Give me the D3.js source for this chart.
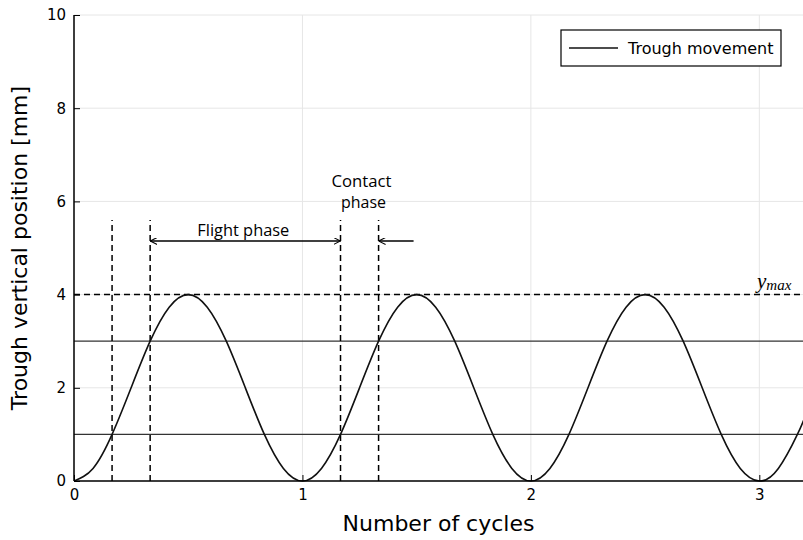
<!DOCTYPE html>
<html>
<head>
<meta charset="utf-8">
<script src="https://cdn.jsdelivr.net/npm/d3@7"></script>
<style>
  body { margin: 0; background: #fff; }
  svg { display: block; }
</style>
</head>
<body>
<div id="chart"></div>
<script>
// trough position, every 1/12 of a cycle
const cycles = [
  0, 0.0833, 0.1667, 0.25, 0.3333, 0.4167, 0.5, 0.5833, 0.6667, 0.75, 0.8333, 0.9167,
  1, 1.0833, 1.1667, 1.25, 1.3333, 1.4167, 1.5, 1.5833, 1.6667, 1.75, 1.8333, 1.9167,
  2, 2.0833, 2.1667, 2.25, 2.3333, 2.4167, 2.5, 2.5833, 2.6667, 2.75, 2.8333, 2.9167,
  3, 3.0833, 3.1667, 3.2
]
const position = [
  0, 0.27, 1, 2, 3, 3.73, 4, 3.73, 3, 2, 1, 0.27,
  0, 0.27, 1, 2, 3, 3.73, 4, 3.73, 3, 2, 1, 0.27,
  0, 0.27, 1, 2, 3, 3.73, 4, 3.73, 3, 2, 1, 0.27,
  0, 0.27, 1, 1.38
]
const xTicks = [0, 1, 2, 3]
const yTicks = [0, 2, 4, 6, 8, 10]
const levelLines = [1, 3]
const yMax = 4
const phaseMarks = [1 / 6, 1 / 3, 7 / 6, 4 / 3]
const markTop = 5.6
const arrowLevel = 5.15

const margin = { top: 15, right: 0, bottom: 59, left: 74 }
const width = 803 - margin.left - margin.right
const height = 540 - margin.top - margin.bottom

const svg = d3
  .select('#chart')
  .append('svg')
  .attr('width', 803)
  .attr('height', 540)

svg.append('defs').append('clipPath').attr('id', 'clip')
  .append('rect').attr('width', width).attr('height', height + 2).attr('y', -1)

const marker = svg.select('defs').append('marker')
  .attr('id', 'arrow')
  .attr('viewBox', '0 0 10 10')
  .attr('refX', 10)
  .attr('refY', 5)
  .attr('markerWidth', 7)
  .attr('markerHeight', 7)
  .attr('markerUnits', 'userSpaceOnUse')
  .attr('orient', 'auto-start-reverse')
marker.append('path').attr('d', 'M0,0 L10,5 L0,10').attr('fill', 'none').attr('stroke', '#000').attr('stroke-width', 1.5)

const g = svg.append('g').attr('transform', `translate(${margin.left},${margin.top})`)

const x = d3.scaleLinear().domain([0, 3.2]).range([0, 731])
const y = d3.scaleLinear().domain([0, 10]).range([height, 0])

// grid
g.append('g')
  .selectAll('line')
  .data(yTicks)
  .enter()
  .append('line')
  .attr('x1', 0).attr('x2', width)
  .attr('y1', d => y(d)).attr('y2', d => y(d))
  .attr('stroke', '#e6e6e6')
g.append('g')
  .selectAll('line')
  .data(xTicks)
  .enter()
  .append('line')
  .attr('x1', d => x(d)).attr('x2', d => x(d))
  .attr('y1', 0).attr('y2', height)
  .attr('stroke', '#e6e6e6')

const plot = g.append('g').attr('clip-path', 'url(#clip)')

// level lines
plot.selectAll('.level')
  .data(levelLines)
  .enter()
  .append('line')
  .attr('class', 'level')
  .attr('x1', 0).attr('x2', width)
  .attr('y1', d => y(d)).attr('y2', d => y(d))
  .attr('stroke', '#333')
  .attr('stroke-width', 1.3)

// y max dashed line
plot.append('line')
  .attr('x1', 0).attr('x2', width)
  .attr('y1', y(yMax)).attr('y2', y(yMax))
  .attr('stroke', '#000')
  .attr('stroke-width', 1.5)
  .attr('stroke-dasharray', '6,4')

// phase marks
plot.selectAll('.mark')
  .data(phaseMarks)
  .enter()
  .append('line')
  .attr('class', 'mark')
  .attr('x1', d => x(d)).attr('x2', d => x(d))
  .attr('y1', y(0)).attr('y2', y(markTop))
  .attr('stroke', '#000')
  .attr('stroke-width', 1.5)
  .attr('stroke-dasharray', '6,4')

// curve
const line = d3.line()
  .x((d, i) => x(cycles[i]))
  .y(d => y(d))
  .curve(d3.curveNatural)

plot.append('path')
  .datum(position)
  .attr('d', line)
  .attr('fill', 'none')
  .attr('stroke', '#111')
  .attr('stroke-width', 1.6)

// arrows
g.append('line')
  .attr('x1', x(phaseMarks[1])).attr('x2', x(phaseMarks[2]))
  .attr('y1', y(arrowLevel)).attr('y2', y(arrowLevel))
  .attr('stroke', '#000').attr('stroke-width', 1.5)
  .attr('marker-start', 'url(#arrow)')
  .attr('marker-end', 'url(#arrow)')
g.append('line')
  .attr('x1', x(phaseMarks[3]) + 35).attr('x2', x(phaseMarks[3]))
  .attr('y1', y(arrowLevel)).attr('y2', y(arrowLevel))
  .attr('stroke', '#000').attr('stroke-width', 1.5)
  .attr('marker-end', 'url(#arrow)')

const noteFont = "'Open Sans', sans-serif"
const note = (text, cx, by, len) => g.append('text')
  .attr('x', cx)
  .attr('y', by)
  .attr('text-anchor', 'middle')
  .attr('font-family', noteFont)
  .attr('font-size', 16)
  .attr('textLength', len)
  .attr('lengthAdjust', 'spacingAndGlyphs')
  .text(text)

note('Flight phase', (x(phaseMarks[1]) + x(phaseMarks[2])) / 2 - 2, y(arrowLevel) - 5, 92)
note('Contact', (x(phaseMarks[2]) + x(phaseMarks[3])) / 2 + 2, 187 - margin.top, 60)
note('phase', (x(phaseMarks[2]) + x(phaseMarks[3])) / 2 + 4, 208 - margin.top, 45)

// y max label
const ymLabel = g.append('text')
  .attr('x', 757 - margin.left)
  .attr('y', y(yMax) - 7)
  .attr('font-family', "'Liberation Serif', serif")
  .attr('font-style', 'italic')
  .attr('font-size', 21)
ymLabel.append('tspan').text('y')
ymLabel.append('tspan').attr('font-size', 15).attr('dy', 2).text('max')

// axes
const xAxis = d3.axisBottom(x).tickValues(xTicks).tickSize(-6).tickPadding(8).tickFormat(d3.format('d'))
g.append('g')
  .attr('transform', `translate(0,${height})`)
  .call(xAxis)
  .call(a => a.select('.domain').attr('d', `M0,0H${width}`).attr('stroke-width', 1.5))
  .selectAll('text')
  .attr('font-family', "'DejaVu Sans', sans-serif")
  .attr('font-size', 15)
  .attr('dy', '0.71em')

const yAxis = d3.axisLeft(y).tickValues(yTicks).tickSize(-6).tickPadding(8)
g.append('g')
  .call(yAxis)
  .call(a => a.select('.domain').attr('d', `M0,${height}V0`).attr('stroke-width', 1.5))
  .selectAll('text')
  .attr('font-family', "'DejaVu Sans', sans-serif")
  .attr('font-size', 15)

svg.append('text')
  .attr('x', margin.left + (803 - margin.left) / 2)
  .attr('y', 531)
  .attr('text-anchor', 'middle')
  .attr('font-family', "'DejaVu Sans', sans-serif")
  .attr('font-size', 22)
  .text('Number of cycles')

svg.append('text')
  .attr('transform', `translate(27,${margin.top + height / 2}) rotate(-90)`)
  .attr('text-anchor', 'middle')
  .attr('font-family', "'DejaVu Sans', sans-serif")
  .attr('font-size', 22)
  .text('Trough vertical position [mm]')

// legend
const legend = svg.append('g').attr('transform', 'translate(561,30)')
legend.append('rect')
  .attr('width', 220).attr('height', 36)
  .attr('fill', '#fff').attr('stroke', '#000').attr('stroke-width', 1.2)
legend.append('line')
  .attr('x1', 8).attr('x2', 57).attr('y1', 18).attr('y2', 18)
  .attr('stroke', '#111').attr('stroke-width', 1.6)
legend.append('text')
  .attr('x', 67).attr('y', 24)
  .attr('font-family', "'DejaVu Sans', sans-serif")
  .attr('font-size', 16)
  .text('Trough movement')
</script>
</body>
</html>
